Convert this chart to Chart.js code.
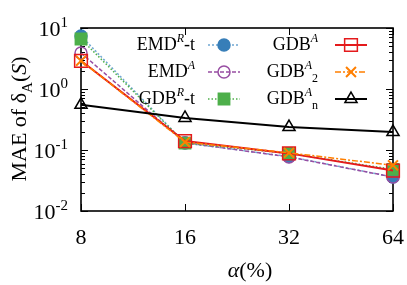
<!DOCTYPE html>
<html>
<head>
<meta charset="utf-8">
<script src="https://cdn.jsdelivr.net/npm/chart.js@4/dist/chart.umd.min.js"></script>
<style>
  html, body { margin: 0; padding: 0; background: #fff; }
  #wrap { width: 407px; height: 285px; position: relative; }
</style>
</head>
<body>
<div id="wrap"><canvas id="chart" width="407" height="285"></canvas></div>
<script>
// alpha (%) categories
const alphaLabels = ['8', '16', '32', '64'];

// MAE values per method
const emdRt  = [7.4, 0.130, 0.078, 0.036];
const emdA   = [3.9, 0.132, 0.077, 0.036];
const gdbRt  = [6.6, 0.130, 0.088, 0.048];
const gdbA   = [2.9, 0.140, 0.088, 0.046];
const gdbA2  = [2.9, 0.135, 0.090, 0.056];
const gdbAn  = [0.55, 0.335, 0.238, 0.197];

const yTickPowers = [1, 0, -1, -2];

const FONT = '"Liberation Serif", "DejaVu Serif", serif';

// legend text pieces (base / superscript / subscript)
const legendItems = [
  { col: 0, row: 0, parts: [['EMD'], ['R', 'sup', true], ['-t']], ds: 0 },
  { col: 0, row: 1, parts: [['EMD'], ['A', 'sup', true]], ds: 1 },
  { col: 0, row: 2, parts: [['GDB'], ['R', 'sup', true], ['-t']], ds: 2 },
  { col: 1, row: 0, parts: [['GDB'], ['A', 'sup', true]], ds: 3 },
  { col: 1, row: 1, parts: [['GDB'], ['A', 'sup', true], ['2', 'sub']], ds: 4 },
  { col: 1, row: 2, parts: [['GDB'], ['A', 'sup', true], ['n', 'sub']], ds: 5 }
];

function partFont(p, size) {
  const s = p[1] ? Math.round(size * 0.68) : size;
  return (p[2] ? 'italic ' : '') + s + 'px ' + FONT;
}

function richWidth(ctx, parts, size) {
  let w = 0;
  parts.forEach(p => { ctx.font = partFont(p, size); w += ctx.measureText(p[0]).width; });
  return w;
}

// draws text with super/subscripts, x is left edge, y is baseline
function drawRich(ctx, parts, x, y, size) {
  ctx.textAlign = 'left';
  ctx.textBaseline = 'alphabetic';
  parts.forEach(p => {
    ctx.font = partFont(p, size);
    let dy = 0;
    if (p[1] === 'sup') dy = -size * 0.42;
    if (p[1] === 'sub') dy = size * 0.28;
    ctx.fillText(p[0], x, y + dy);
    x += ctx.measureText(p[0]).width;
  });
}

const framePlugin = {
  id: 'frame',
  beforeDatasetsDraw(chart) {
    const ctx = chart.ctx;
    const a = chart.chartArea;
    const ys = chart.scales.y, xs = chart.scales.x;
    ctx.save();
    ctx.strokeStyle = '#000';
    ctx.lineWidth = 1;
    // minor + major ticks on log axis, both sides
    for (let pw = -2; pw <= 1; pw++) {
      for (let m = 1; m <= 9; m++) {
        if (pw === 1 && m > 1) break;
        const v = m * Math.pow(10, pw);
        const y = Math.round(ys.getPixelForValue(v)) + 0.5;
        const len = m === 1 ? 7 : 4;
        ctx.beginPath();
        ctx.moveTo(a.left, y); ctx.lineTo(a.left + len, y);
        ctx.moveTo(a.right, y); ctx.lineTo(a.right - len, y);
        ctx.stroke();
      }
    }
    alphaLabels.forEach((l, i) => {
      const x = Math.round(xs.getPixelForValue(i)) + 0.5;
      ctx.beginPath();
      ctx.moveTo(x, a.bottom); ctx.lineTo(x, a.bottom - 7);
      ctx.moveTo(x, a.top); ctx.lineTo(x, a.top + 7);
      ctx.stroke();
    });
    ctx.lineWidth = 1.6;
    ctx.strokeRect(a.left, a.top, a.right - a.left, a.bottom - a.top);
    ctx.restore();
  },
  afterDraw(chart) {
    const ctx = chart.ctx;
    const a = chart.chartArea;
    const ys = chart.scales.y, xs = chart.scales.x;
    ctx.save();
    ctx.fillStyle = '#000';

    // y tick labels 10^n
    yTickPowers.forEach(pw => {
      const y = ys.getPixelForValue(Math.pow(10, pw));
      const parts = [['10'], [String(pw), 'sup']];
      const w = richWidth(ctx, parts, 22);
      drawRich(ctx, parts, a.left - 13 - w, y + 8, 22);
    });

    // x tick labels
    ctx.font = '22px ' + FONT;
    ctx.textAlign = 'center';
    ctx.textBaseline = 'middle';
    alphaLabels.forEach((l, i) => {
      ctx.fillText(l, xs.getPixelForValue(i), a.bottom + 27);
    });

    // x title
    const xt = [['α', null, true], ['(%)']];
    const xw = richWidth(ctx, xt, 22);
    drawRich(ctx, xt, 250 - xw / 2, 277, 22);

    // y title (rotated)
    const yt = [['MAE of δ'], ['A', 'sub'], ['('], ['S', null, true], [')']];
    ctx.translate(26, 119);
    ctx.rotate(-Math.PI / 2);
    const yw = richWidth(ctx, yt, 22);
    drawRich(ctx, yt, -yw / 2, 0, 22);
    ctx.setTransform(1, 0, 0, 1, 0, 0);

    // legend
    const colText = [195, 318];
    const colLine = [[208, 240], [335, 367]];
    const rowY = [45, 72, 99];
    legendItems.forEach(it => {
      const ds = chart.data.datasets[it.ds];
      const y = rowY[it.row];
      const w = richWidth(ctx, it.parts, 18);
      ctx.fillStyle = '#000';
      drawRich(ctx, it.parts, colText[it.col] - w, y + 5, 18);
      const [x0, x1] = colLine[it.col];
      ctx.save();
      ctx.strokeStyle = ds.borderColor;
      ctx.lineWidth = ds.borderWidth;
      ctx.setLineDash(ds.borderDash || []);
      ctx.beginPath();
      ctx.moveTo(x0, y); ctx.lineTo(x1, y);
      ctx.stroke();
      ctx.setLineDash([]);
      ctx.fillStyle = ds.pointBackgroundColor;
      ctx.strokeStyle = ds.pointBorderColor;
      ctx.lineWidth = ds.pointBorderWidth;
      Chart.helpers.drawPoint(ctx, {
        pointStyle: ds.pointStyle, radius: ds.pointRadius,
        rotation: 0, borderWidth: ds.pointBorderWidth
      }, (x0 + x1) / 2, y);
      ctx.restore();
    });
    ctx.restore();
  }
};

function series(label, data, color, opts) {
  return Object.assign({
    label: label,
    data: data,
    borderColor: color,
    backgroundColor: color,
    pointBorderColor: color,
    pointBackgroundColor: color,
    borderWidth: 1.5,
    pointBorderWidth: 1.5,
    pointRadius: 5.5,
    pointHoverRadius: 5.5,
    tension: 0,
    clip: false
  }, opts);
}

const datasets = [
  series('EMD^R-t', emdRt, '#377eb8', { borderColor: '#6fa6d2', borderDash: [2, 2], pointStyle: 'circle', pointRadius: 6, order: 6 }),
  series('EMD^A', emdA, '#984ea3', { borderDash: [4, 2], pointStyle: 'circle', pointBackgroundColor: 'rgba(0,0,0,0)', pointRadius: 6, order: 5 }),
  series('GDB^R-t', gdbRt, '#4daf4a', { borderDash: [1.5, 2], pointStyle: 'rect', pointRadius: 8, order: 4 }),
  series('GDB^A', gdbA, '#e41a1c', { borderWidth: 2, pointStyle: 'rect', pointBackgroundColor: 'rgba(0,0,0,0)', pointRadius: 9, order: 3 }),
  series('GDB^A_2', gdbA2, '#ff7f00', { borderDash: [6, 2, 2, 2], pointStyle: 'crossRot', pointRadius: 7, pointBorderWidth: 2, order: 2 }),
  series('GDB^A_n', gdbAn, '#000000', { borderWidth: 2, pointStyle: 'triangle', pointBackgroundColor: 'rgba(0,0,0,0)', pointRadius: 7, order: 1 })
];

new Chart(document.getElementById('chart'), {
  type: 'line',
  data: { labels: alphaLabels, datasets: datasets },
  options: {
    responsive: false,
    animation: false,
    layout: { padding: { top: 28, right: 14, left: 0, bottom: 0 } },
    plugins: { legend: { display: false }, tooltip: { enabled: false } },
    scales: {
      x: {
        type: 'category',
        offset: false,
        grid: { display: false },
        border: { display: false },
        ticks: { display: false },
        afterFit: s => { s.height = 74; }
      },
      y: {
        type: 'logarithmic',
        min: 0.01,
        max: 10,
        grid: { display: false },
        border: { display: false },
        ticks: { display: false },
        afterFit: s => { s.width = 81; }
      }
    }
  },
  plugins: [framePlugin]
});
</script>
</body>
</html>
